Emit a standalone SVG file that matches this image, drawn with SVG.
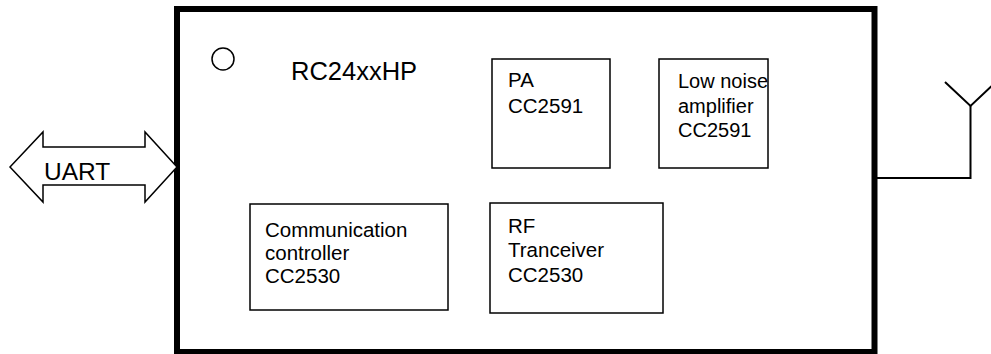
<svg xmlns="http://www.w3.org/2000/svg" width="991" height="354" viewBox="0 0 991 354">
<style>
.t{font-family:"Liberation Sans",Arial,sans-serif;fill:#000}
.b{fill:#fff;stroke:#000;stroke-width:1.5}
.l{fill:none;stroke:#000;stroke-width:2}
</style>
<rect x="0" y="0" width="991" height="354" fill="#fff"/>
<g id="module">
<rect x="177" y="9" width="697.5" height="343" fill="#fff" stroke="#000" stroke-width="6"/>
<circle cx="223" cy="59" r="11" fill="none" stroke="#000" stroke-width="1.5"/>
<text class="t" x="291" y="80" font-size="25.5">RC24xxHP</text>
</g>
<g id="uart">
<polygon points="10,167 43,132 43,147 145,147 145,132 177,167 145,202 145,185 43,185 43,202" fill="#fff" stroke="#000" stroke-width="1.5"/>
<text class="t" x="44" y="180" font-size="24.5">UART</text>
</g>
<g id="pa">
<rect class="b" x="492" y="59" width="118" height="109"/>
<text class="t" font-size="20.5"><tspan x="508" y="87">PA</tspan><tspan x="508" y="113">CC2591</tspan></text>
</g>
<g id="lna">
<rect class="b" x="659" y="59" width="109" height="109"/>
<text class="t" font-size="20"><tspan x="678" y="88">Low noise</tspan><tspan x="678" y="113">amplifier</tspan><tspan x="678" y="137">CC2591</tspan></text>
</g>
<g id="comm">
<rect class="b" x="250" y="204" width="198" height="106"/>
<text class="t" font-size="20.5"><tspan x="265" y="237">Communication</tspan><tspan x="265" y="260">controller</tspan><tspan x="265" y="283">CC2530</tspan></text>
</g>
<g id="rf">
<rect class="b" x="490" y="203" width="173" height="110"/>
<text class="t" font-size="20.5"><tspan x="508" y="233">RF</tspan><tspan x="508" y="257">Tranceiver</tspan><tspan x="508" y="282">CC2530</tspan></text>
</g>
<g id="connectors">
<polyline class="l" points="877,178 970.5,178 970.5,106"/>
<polyline class="l" points="945,82 970.5,106 996,82"/>
</g>
</svg>
